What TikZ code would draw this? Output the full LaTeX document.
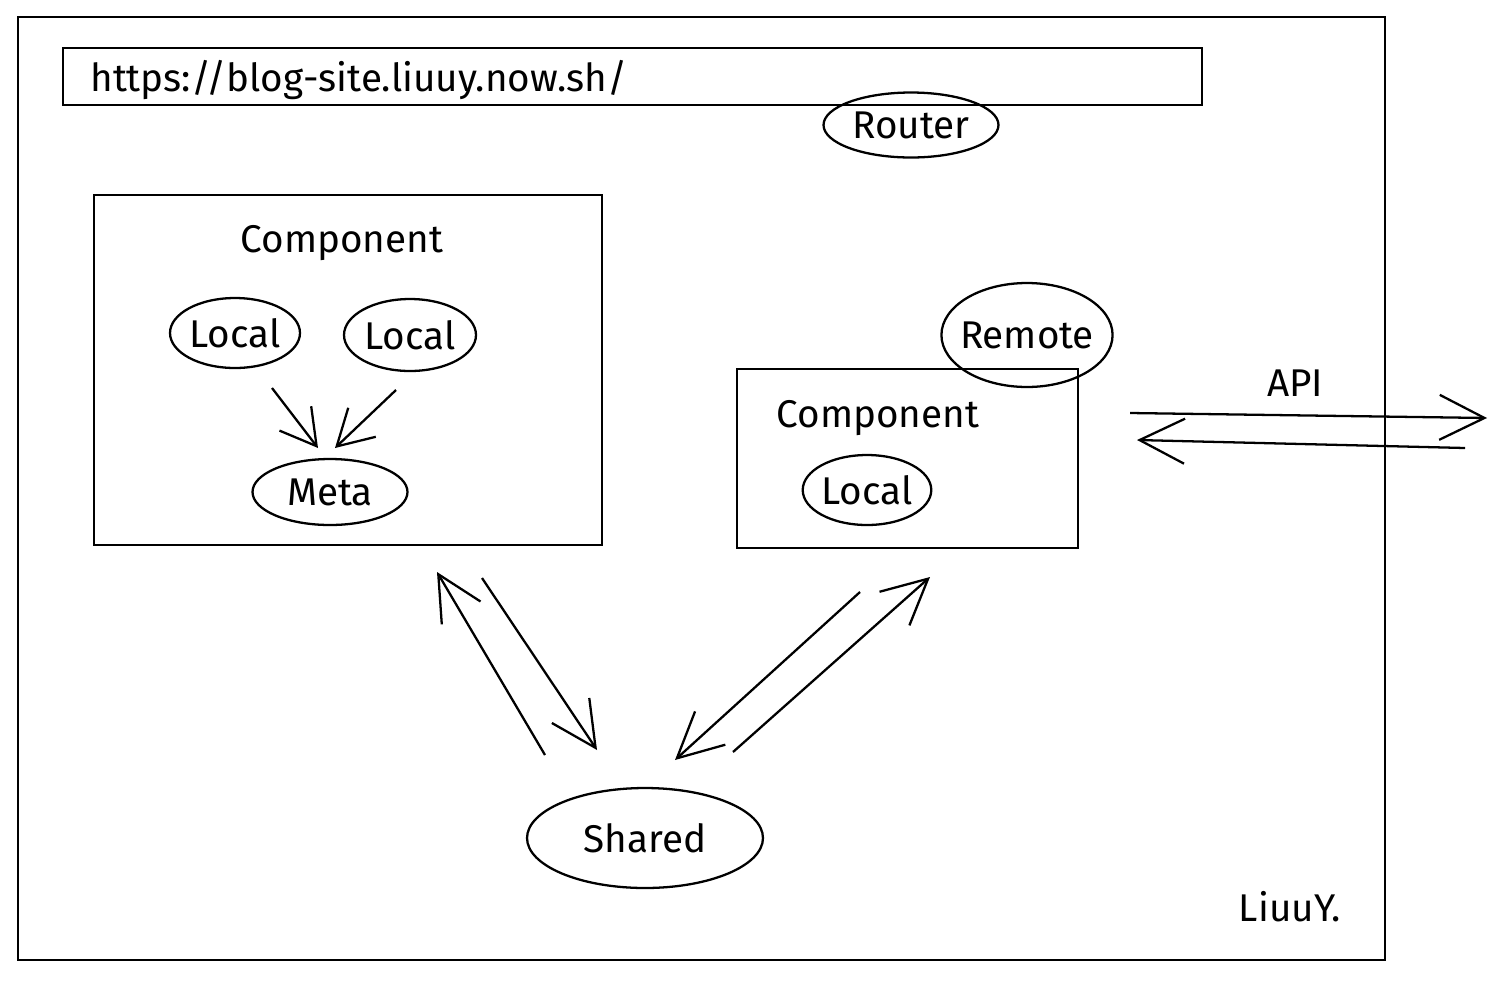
\documentclass[tikz,border=0pt]{standalone}
\usepackage{fontspec}
\setmainfont{Fira Sans}
\usetikzlibrary{arrows.meta,shapes.geometric}
\begin{document}
\begin{tikzpicture}[x=0.02cm,y=-0.02cm,
  every node/.style={font=\fontsize{22}{26}\selectfont},
  frame/.style={draw,line width=1.3pt},
  oval/.style={draw,ellipse,line width=1.3pt,inner sep=0pt},
  arr/.style={line width=1.3pt,-{Straight Barb[length=9mm,width=9mm,line width=1.3pt]}},
  sarr/.style={line width=1.3pt,-{Straight Barb[length=7mm,width=8mm,line width=1.3pt]}},
  lbl/.style={inner sep=0pt}]
\useasboundingbox (0,0) rectangle (1507,981);
% outer frame
\draw[frame] (18,17) rectangle (1385,960);
% url bar
\draw[frame] (63,48) rectangle (1202,105);
\node[lbl,anchor=west] (url) at (90,80) {https://blog-site.liuuy.now.sh/};
\node[oval,minimum width=3.5cm,minimum height=1.3cm] (router) at (911,125) {Router};
% left component
\node[frame,minimum width=10.16cm,minimum height=7cm] (lbox) at (348,370) {};
\node[lbl] (lcomp) at (342,243) {Component};
\node[oval,minimum width=2.6cm,minimum height=1.4cm] (local1) at (235,333) {Local};
\node[oval,minimum width=2.64cm,minimum height=1.44cm] (local2) at (410,335) {Local};
\node[oval,minimum width=3.1cm,minimum height=1.32cm] (meta) at (330,492) {Meta};
\coordinate (a1s) at (272,388);
\coordinate (a1e) at (318,448);
\coordinate (a2s) at (396,390);
\coordinate (a2e) at (335,448);
\draw[sarr] (a1s) -- (a1e);
\draw[sarr] (a2s) -- (a2e);
% right component
\node[frame,minimum width=6.82cm,minimum height=3.58cm] (rbox) at (907.5,458.5) {};
\node[oval,inner xsep=-0.13cm,minimum width=3.32cm,minimum height=2.08cm] (remote) at (1027,335) {Remote};
\node[lbl] (rcomp) at (878,418) {Component};
\node[oval,minimum width=2.56cm,minimum height=1.4cm] (local3) at (867,490) {Local};
% API
\node[lbl] (api) at (1295,383) {API};
\coordinate (apiL1) at (1130,413);
\coordinate (apiR1) at (1487,418);
\coordinate (apiR2) at (1465,448);
\coordinate (apiL2) at (1137,440);
\draw[arr] (apiL1) -- (apiR1);
\draw[arr] (apiR2) -- (apiL2);
% shared
\node[oval,minimum width=4.72cm,minimum height=2cm] (shared) at (645,838) {Shared};
\coordinate (b1s) at (545,755);
\coordinate (b1e) at (437,572);
\coordinate (b2s) at (482,578);
\coordinate (b2e) at (597,750);
\coordinate (c1s) at (860,592);
\coordinate (c1e) at (675,760);
\coordinate (c2s) at (733,752);
\coordinate (c2e) at (930,577);
\draw[arr] (b1s) -- (b1e);
\draw[arr] (b2s) -- (b2e);
\draw[arr] (c1s) -- (c1e);
\draw[arr] (c2s) -- (c2e);
% signature
\node[lbl] (sig) at (1290,907) {LiuuY.};
\end{tikzpicture}
\end{document}
